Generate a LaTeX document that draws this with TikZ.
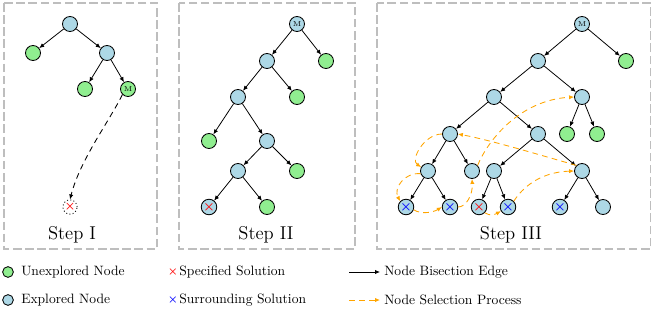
\documentclass[tikz,border=0pt]{standalone}
\usepackage{amsmath}
\usetikzlibrary{arrows.meta}
\definecolor{lblue}{RGB}{173,216,230}
\definecolor{lgreen}{RGB}{144,238,144}
\definecolor{selorange}{RGB}{255,165,0}
\definecolor{panelgray}{RGB}{190,190,190}
\begin{document}
\begin{tikzpicture}[x=0.7pt,y=-0.7pt,
  nd/.style={circle,draw=black,line width=0.6pt,minimum size=10.5pt,inner sep=0pt},
  gn/.style={nd,fill=lgreen},
  bn/.style={nd,fill=lblue},
  mlab/.style={font=\fontsize{5}{6}\selectfont},
  xred/.style={text=red,font=\fontsize{9}{9}\selectfont},
  xblue/.style={text=blue,font=\fontsize{9}{9}\selectfont},
  edge/.style={-{Latex[length=3.5pt,width=3pt]},line width=0.55pt},
  sel/.style={-{Latex[length=3.5pt,width=3pt]},draw=selorange,dash pattern=on 4pt off 3pt,line width=0.6pt},
  panel/.style={draw=panelgray,dash pattern=on 6pt off 2.5pt,line width=1pt},
  steplbl/.style={font=\fontsize{13}{15}\selectfont},
  legtxt/.style={font=\fontsize{9.5}{11}\selectfont,anchor=west,inner sep=0pt},
  legnd/.style={circle,draw=black,line width=0.6pt,minimum size=7.5pt,inner sep=0pt}
]
\useasboundingbox (0,0) rectangle (652,320);

% panels
\draw[panel] (4,3) rectangle (157,249);
\draw[panel] (179,3) rectangle (355,249);
\draw[panel] (377,3) rectangle (650.5,249);

\node[steplbl] (s1) at (72,235) {Step I};
\node[steplbl] (s2) at (266,235) {Step II};
\node[steplbl] (s3) at (511,235) {Step III};

% ---------- Panel 1 ----------
\node[bn] (a0) at (70,24) {};
\node[gn] (a1) at (33,53) {};
\node[bn] (a2) at (107,53) {};
\node[gn] (a3) at (85,89) {};
\node[gn,mlab] (a4) at (128,89) {M};
\node[circle,draw=black,dash pattern=on 0.7pt off 1.6pt,line width=0.6pt,minimum size=10pt,inner sep=0pt,text=red,font=\fontsize{8}{8}\selectfont] (at) at (70,207) {$\boldsymbol{\times}$};
\draw[edge] (a0) -- (a1);
\draw[edge] (a0) -- (a2);
\draw[edge] (a2) -- (a3);
\draw[edge] (a2) -- (a4);
\draw[-{Latex[length=3.5pt,width=3pt]},dash pattern=on 4pt off 3pt,line width=0.6pt]
  (a4.south west) .. controls (110,120) and (80,160) .. (at.north);

% ---------- Panel 2 ----------
\node[bn,mlab] (b0) at (297,24) {M};
\node[bn] (b1) at (267,61) {};
\node[gn] (b2) at (326,61) {};
\node[bn] (b3) at (238,97) {};
\node[gn] (b4) at (297,97) {};
\node[gn] (b5) at (209,141) {};
\node[bn] (b6) at (267,141) {};
\node[bn] (b7) at (238,171) {};
\node[gn] (b8) at (297,171) {};
\node[bn,xred] (b9) at (209,207) {$\boldsymbol{\times}$};
\node[gn] (b10) at (267,207) {};
\draw[edge] (b0) -- (b1);
\draw[edge] (b0) -- (b2);
\draw[edge] (b1) -- (b3);
\draw[edge] (b1) -- (b4);
\draw[edge] (b3) -- (b5);
\draw[edge] (b3) -- (b6);
\draw[edge] (b6) -- (b7);
\draw[edge] (b6) -- (b8);
\draw[edge] (b7) -- (b9);
\draw[edge] (b7) -- (b10);

% ---------- Panel 3 ----------
\node[bn,mlab] (c0) at (582,24) {M};
\node[bn] (c1) at (538,61) {};
\node[gn] (c2) at (626,61) {};
\node[bn] (c3) at (494,97) {};
\node[bn] (c4) at (582,97) {};
\node[gn] (c5) at (567,134) {};
\node[gn] (c6) at (597,134) {};
\node[bn] (c7) at (450,134) {};
\node[bn] (c8) at (538,134) {};
\node[bn] (c9) at (428,171) {};
\node[bn] (c10) at (472,171) {};
\node[bn] (c11) at (494,171) {};
\node[bn] (c12) at (582,171) {};
\node[bn,xblue] (c13) at (406,207) {$\boldsymbol{\times}$};
\node[bn,xblue] (c14) at (450,207) {$\boldsymbol{\times}$};
\node[bn,xred] (c15) at (479,207) {$\boldsymbol{\times}$};
\node[bn,xblue] (c16) at (508,207) {$\boldsymbol{\times}$};
\node[bn,xblue] (c17) at (560,207) {$\boldsymbol{\times}$};
\node[bn] (c18) at (603,207) {};
\draw[edge] (c0) -- (c1);
\draw[edge] (c0) -- (c2);
\draw[edge] (c1) -- (c3);
\draw[edge] (c1) -- (c4);
\draw[edge] (c4) -- (c5);
\draw[edge] (c4) -- (c6);
\draw[edge] (c3) -- (c7);
\draw[edge] (c3) -- (c8);
\draw[edge] (c7) -- (c9);
\draw[edge] (c7) -- (c10);
\draw[edge] (c8) -- (c11);
\draw[edge] (c8) -- (c12);
\draw[edge] (c9) -- (c13);
\draw[edge] (c9) -- (c14);
\draw[edge] (c11) -- (c15);
\draw[edge] (c11) -- (c16);
\draw[edge] (c12) -- (c17);
\draw[edge] (c12) -- (c18);

% node selection process
\draw[sel] (c15.south east) .. controls (490,216) and (494,215) .. (c16.210);
\draw[sel] (c16.north east) .. controls (522,188) and (540,172) .. (c12.west);
\draw[sel] (c12.north west) .. controls (540,155) and (490,140) .. (c7.east);
\draw[sel] (c7.west) .. controls (424,134) and (410,160) .. (c9.150);
\draw[sel] (c9.200) .. controls (405,172) and (393,188) .. (c13.north west);
\draw[sel] (c13.-20) .. controls (422,215) and (434,212) .. (c14.west);
\draw[sel] (c14.east) .. controls (466,207) and (473,195) .. (c10.south);
\draw[sel] (c10.north east) .. controls (488,140) and (520,100) .. (c4.west);

% ---------- Legend ----------
\node[legnd,fill=lgreen] (lg1) at (8,272) {};
\node[legtxt] (lt1) at (21,272) {Unexplored Node};
\node[legnd,fill=lblue] (lg2) at (8,300) {};
\node[legtxt] (lt2) at (21,300) {Explored Node};
\node[text=red,inner sep=0pt,font=\fontsize{7.5}{7.5}\selectfont] (lx1) at (173,272) {$\boldsymbol{\times}$};
\node[legtxt] (lt3) at (179,272) {Specified Solution};
\node[text=blue,inner sep=0pt,font=\fontsize{7.5}{7.5}\selectfont] (lx2) at (173,300) {$\boldsymbol{\times}$};
\node[legtxt] (lt4) at (179,300) {Surrounding Solution};
\coordinate (le1a) at (349,272);
\coordinate (le1b) at (380,272);
\draw[edge] (le1a) -- (le1b);
\node[legtxt] (lt5) at (384,272) {Node Bisection Edge};
\coordinate (le2a) at (349,300);
\coordinate (le2b) at (380,300);
\draw[sel] (le2a) -- (le2b);
\node[legtxt] (lt6) at (384,300) {Node Selection Process};
\end{tikzpicture}
\end{document}
